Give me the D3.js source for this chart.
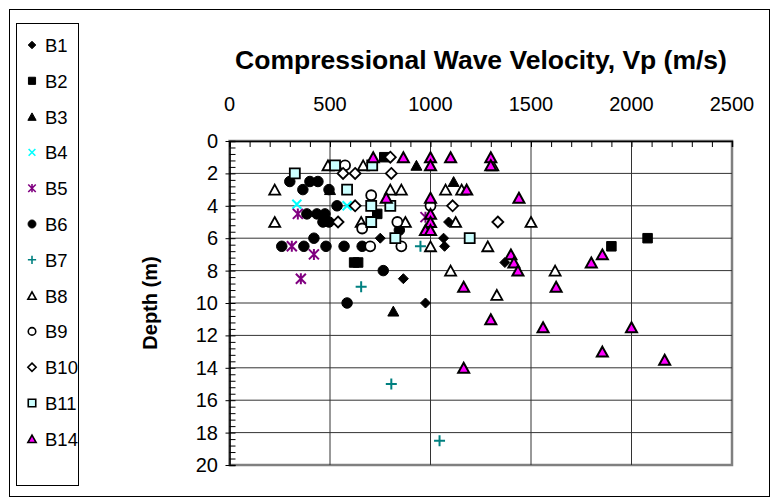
<!DOCTYPE html>
<html><head><meta charset="utf-8">
<script src="https://cdn.jsdelivr.net/npm/d3@7"></script>
<style>body{margin:0;background:#fff}svg{display:block;font-family:Arial,"Liberation Sans",sans-serif}</style>
</head><body><svg id="c" width="771" height="499"></svg>
<script>
// ---- data: [Vp (m/s), depth (m)] ----
const seriesNames = ["B1","B2","B3","B4","B5","B6","B7","B8","B9","B10","B11","B14"];
const B1 = [[750,6],[1090,5],[1065,6],[1070,6.5],[1370,7.5],[865,8.5],[975,10]];
const B2 = [[770,1],[735,4.5],[620,7.5],[640,7.5],[1900,6.5],[2080,6]];
const B3 = [[930,1.5],[1115,2.5],[500,3],[815,10.5]];
const B4 = [[335,3.9],[585,4]];
const B5 = [[340,4.5],[310,6.5],[420,7],[355,8.5],[975,4.7]];
const B6 = [[260,6.5],[300,2.5],[365,3],[400,2.5],[440,2.5],[495,3],[535,4],[385,4.5],[435,4.5],[475,4.5],[465,5],[495,5],[420,6],[370,6.5],[480,6.5],[570,6.5],[660,6.5],[765,8],[585,10],[845,5.5]];
const B7 = [[950,6.5],[655,9],[805,15],[1045,18.5]];
const B8 = [[225,3],[225,5],[490,1.5],[665,1.5],[800,3],[855,3],[655,5],[875,5],[1000,6.5],[1075,3],[1155,3],[1125,5],[1500,5],[1285,6.5],[1100,8],[1620,8],[1330,9.5],[1310,1.5]];
const B9 = [[575,1.5],[705,3.35],[1000,4],[835,5],[660,5.4],[700,6.5],[855,6.5]];
const B10 = [[800,1],[565,2],[625,2],[805,2],[625,4],[540,5],[1110,4],[1335,5]];
const B11 = [[325,2],[525,1.5],[585,3],[710,1.5],[705,4],[800,4],[705,5],[825,6],[1195,6]];
const B14 = [[715,1],[865,1],[1000,1],[1000,1.5],[1100,1],[1300,1],[1300,1.5],[1180,3],[1440,3.5],[780,3.5],[1000,3.5],[1000,4.5],[1000,5],[975,5.5],[1000,5.5],[1400,7],[1415,7.5],[1435,8],[1165,9],[1300,11],[1560,11.5],[1625,9],[1165,14],[1800,7.5],[1855,7],[2000,11.5],[1855,13],[2165,13.5]];
const seriesData = [B1,B2,B3,B4,B5,B6,B7,B8,B9,B10,B11,B14];
const xTickValues = [0,500,1000,1500,2000,2500];
const yTickValues = [0,2,4,6,8,10,12,14,16,18,20];
const titleText = "Compressional Wave Velocity, Vp (m/s)";
const yTitleText = "Depth (m)";

// ---- symbol shapes (size = width^2) ----
const shapes = {
  diamond:{draw(c,s){const r=Math.sqrt(s)/2;c.moveTo(0,-r);c.lineTo(r,0);c.lineTo(0,r);c.lineTo(-r,0);c.closePath();}},
  square:{draw(c,s){const r=Math.sqrt(s)/2;c.rect(-r,-r,2*r,2*r);}},
  triangle:{draw(c,s){const w=Math.sqrt(s),h=w*0.9;c.moveTo(0,-h/2);c.lineTo(w/2,h/2);c.lineTo(-w/2,h/2);c.closePath();}},
  circle:{draw(c,s){const r=Math.sqrt(s)/2;c.moveTo(r,0);c.arc(0,0,r,0,2*Math.PI);}},
  xmark:{draw(c,s){const r=Math.sqrt(s)/2;c.moveTo(-r,-r);c.lineTo(r,r);c.moveTo(r,-r);c.lineTo(-r,r);}},
  star:{draw(c,s){const r=Math.sqrt(s)/2;c.moveTo(-r,-r);c.lineTo(r,r);c.moveTo(r,-r);c.lineTo(-r,r);c.moveTo(0,-r*1.1);c.lineTo(0,r*1.1);}},
  plus:{draw(c,s){const r=Math.sqrt(s)/2;c.moveTo(-r,0);c.lineTo(r,0);c.moveTo(0,-r);c.lineTo(0,r);}}
};
const styles = [
  {shape:"diamond", fill:"#000", stroke:"#000", sw:1, size:10},
  {shape:"square", fill:"#000", stroke:"#000", sw:1, size:9.5},
  {shape:"triangle", fill:"#000", stroke:"#000", sw:1, size:11},
  {shape:"xmark", fill:"none", stroke:"#00FFFF", sw:2, size:9},
  {shape:"star", fill:"none", stroke:"#800080", sw:2, size:10},
  {shape:"circle", fill:"#000", stroke:"#000", sw:1, size:10.5},
  {shape:"plus", fill:"none", stroke:"#008080", sw:2, size:11},
  {shape:"triangle", fill:"#fff", stroke:"#000", sw:1.8, size:11},
  {shape:"circle", fill:"#fff", stroke:"#000", sw:1.8, size:10},
  {shape:"diamond", fill:"#fff", stroke:"#000", sw:1.8, size:11},
  {shape:"square", fill:"#CCFFFF", stroke:"#000", sw:1.8, size:10},
  {shape:"triangle", fill:"#FF00FF", stroke:"#000", sw:2, size:11}
];

const svg = d3.select("#c");
const x = d3.scaleLinear().domain([0,2500]).range([229.5,732]);
const y = d3.scaleLinear().domain([0,20]).range([141,465]);

// outer chart border
svg.append("rect").attr("x",9.5).attr("y",9.5).attr("width",760).attr("height",487)
  .attr("fill","#fff").attr("stroke","#000").attr("stroke-width",1);

// plot area border (right/bottom grey)
svg.append("rect").attr("x",x(0)).attr("y",y(0)).attr("width",x(2500)-x(0)).attr("height",y(20)-y(0))
  .attr("fill","#fff").attr("stroke","#808080").attr("stroke-width",2.5);

// gridlines
const grid = svg.append("g").attr("stroke","#333").attr("stroke-width",1);
grid.selectAll(".gx").data(xTickValues.filter(v=>v>0&&v<2500)).join("line")
  .attr("x1",d=>x(d)).attr("x2",d=>x(d)).attr("y1",y(0)).attr("y2",y(20));
grid.selectAll(".gy").data(yTickValues.filter(v=>v>0&&v<20)).join("line")
  .attr("y1",d=>y(d)).attr("y2",d=>y(d)).attr("x1",x(0)).attr("x2",x(2500));

// top axis (minor ticks inside)
const xAxisTop = d3.axisTop(x).tickValues(d3.range(0,2501,100)).tickSize(-6).tickFormat("");
const gx = svg.append("g").attr("transform",`translate(0,${y(0)})`).call(xAxisTop);
gx.select(".domain").attr("stroke","#000").attr("stroke-width",1.5);
gx.selectAll(".tick line").attr("stroke","#000");
svg.append("g").selectAll("text").data(xTickValues).join("text")
  .attr("x",d=>x(d)).attr("y",111).attr("text-anchor","middle")
  .attr("font-size",20).attr("fill","#000").text(d=>d);

// left axis
const yAxisMinor = d3.axisRight(y).tickValues(d3.range(0,20.01,0.4)).tickSize(6).tickFormat("");
const gy = svg.append("g").attr("transform",`translate(${x(0)},0)`).call(yAxisMinor);
gy.select(".domain").attr("stroke","#000").attr("stroke-width",1.5);
gy.selectAll(".tick line").attr("stroke","#000");
const yAxisMajor = d3.axisLeft(y).tickValues(yTickValues).tickSize(4).tickFormat("");
const gy2 = svg.append("g").attr("transform",`translate(${x(0)},0)`).call(yAxisMajor);
gy2.select(".domain").remove();
gy2.selectAll(".tick line").attr("stroke","#000");
svg.append("g").selectAll("text").data(yTickValues).join("text")
  .attr("x",218).attr("y",d=>y(d)+7).attr("text-anchor","end")
  .attr("font-size",20).attr("fill","#000").text(d=>d);

// titles
svg.append("text").attr("x",481).attr("y",69).attr("text-anchor","middle")
  .attr("font-size",26.5).attr("font-weight","bold").text(titleText);
svg.append("text").attr("transform",`translate(157,${(y(0)+y(20))/2}) rotate(-90)`)
  .attr("text-anchor","middle").attr("font-size",20).attr("font-weight","bold").text(yTitleText);

// points
seriesData.forEach((data,i)=>{
  const st = styles[i];
  svg.append("g").selectAll("path").data(data).join("path")
    .attr("transform",d=>`translate(${x(d[0])},${y(d[1])})`)
    .attr("d",d3.symbol().type(shapes[st.shape]).size(st.size*st.size)())
    .attr("fill",st.fill).attr("stroke",st.stroke).attr("stroke-width",st.sw);
});

// legend
const lg = svg.append("g");
lg.append("rect").attr("x",16.5).attr("y",23.5).attr("width",62).attr("height",462)
  .attr("fill","#fff").attr("stroke","#000").attr("stroke-width",1);
seriesNames.forEach((n,i)=>{
  const st = styles[i];
  const cy = 45 + i*35.8;
  lg.append("path").attr("transform",`translate(32,${cy})`)
    .attr("d",d3.symbol().type(shapes[st.shape]).size(Math.pow(st.size*0.75,2))())
    .attr("fill",st.fill).attr("stroke",st.stroke).attr("stroke-width",Math.min(st.sw,1.6));
  lg.append("text").attr("x",45).attr("y",cy+7).attr("font-size",18.5).text(n);
});
</script></body></html>
